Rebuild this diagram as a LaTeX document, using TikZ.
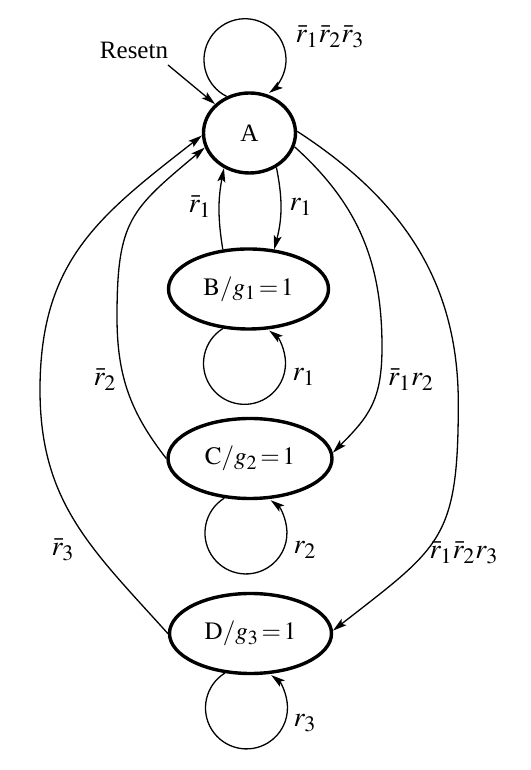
\documentclass[tikz,border=0pt]{standalone}
\usepackage{mathptmx}
\usepackage[no-math]{fontspec}
\setmainfont{Liberation Serif}
\DeclareMathSizes{12.5}{12.5}{10}{8}
\DeclareMathSizes{14}{14}{11}{8.5}
\usetikzlibrary{shapes.geometric,arrows.meta}
\begin{document}
\begin{tikzpicture}[x=0.5pt,y=0.5pt,
  font=\fontsize{12.5}{15}\selectfont,
  state/.style={draw, ellipse, line width=1.7pt, inner sep=0pt, minimum height=40pt},
  myedge/.style={line width=0.65pt, -{Stealth[length=7pt,width=4pt,inset=1.5pt]}},
  lbl/.style={inner sep=0pt, font=\fontsize{14}{17}\selectfont}]
\useasboundingbox (0,0) rectangle (530,770);
% states
\node[state, minimum width=46pt] (A) at (249.5,637) {A};
\node[state, minimum width=80pt] (B) at (248.5,481) {$\mathrm{B}/g_1\,{=}\,1$};
\node[state, minimum width=82pt] (C) at (250,311.5) {$\mathrm{C}/g_2\,{=}\,1$};
\node[state, minimum width=81pt] (D) at (250.5,136.5) {$\mathrm{D}/g_3\,{=}\,1$};
% reset
\node[inner sep=0pt] (reset) at (134,720) {Resetn};
\coordinate (rs) at (168,705);
% waypoints
\coordinate (wl2) at (117,453);
\coordinate (wl3) at (40,380);
\coordinate (wr2) at (382,423);
\coordinate (wr3) at (458.3,366.7);
% edges
\draw[myedge] (A.122) arc[start angle=243.4, end angle=-54, radius=41];
\draw[myedge] (rs) -- (A.140);
\draw[myedge] (A.-52) to[bend left=13] (B.57);
\draw[myedge] (B.123) to[bend left=10] (A.-126);
\draw[myedge] (B.-123) arc[start angle=122, end angle=413, radius=41];
\draw[myedge] (C.-123) arc[start angle=122, end angle=413, radius=41];
\draw[myedge] (D.-123) arc[start angle=122, end angle=413, radius=41];
\draw[myedge] (C.west) to[out=128,in=-90] (wl2) to[out=90,in=220,looseness=1.3] (A.198);
\draw[myedge] (D.west) to[out=132,in=-90,looseness=1.05] (wl3) to[out=90,in=218,looseness=1.1] (A.183);
\draw[myedge] (A.-17) to[out=-42,in=90] (wr2) to[out=-90,in=45,looseness=1.15] (C.4);
\draw[myedge] (A.2) to[out=-33,in=90] (wr3) to[out=-90,in=38,looseness=1.35] (D.2);
% labels
\node[lbl] (lAA) at (330,733) {$\bar r_1\bar r_2\bar r_3$};
\node[lbl] (lAB) at (301,563) {$r_1$};
\node[lbl] (lBA) at (200,563) {$\bar r_1$};
\node[lbl] (lBB) at (304,393) {$r_1$};
\node[lbl] (lCC) at (305,220) {$r_2$};
\node[lbl] (lDD) at (305,47) {$r_3$};
\node[lbl] (lCA) at (105,390) {$\bar r_2$};
\node[lbl] (lDA) at (63,220) {$\bar r_3$};
\node[lbl] (lAC) at (411,390) {$\bar r_1 r_2$};
\node[lbl] (lAD) at (464,217) {$\bar r_1\bar r_2 r_3$};
\end{tikzpicture}
\end{document}
